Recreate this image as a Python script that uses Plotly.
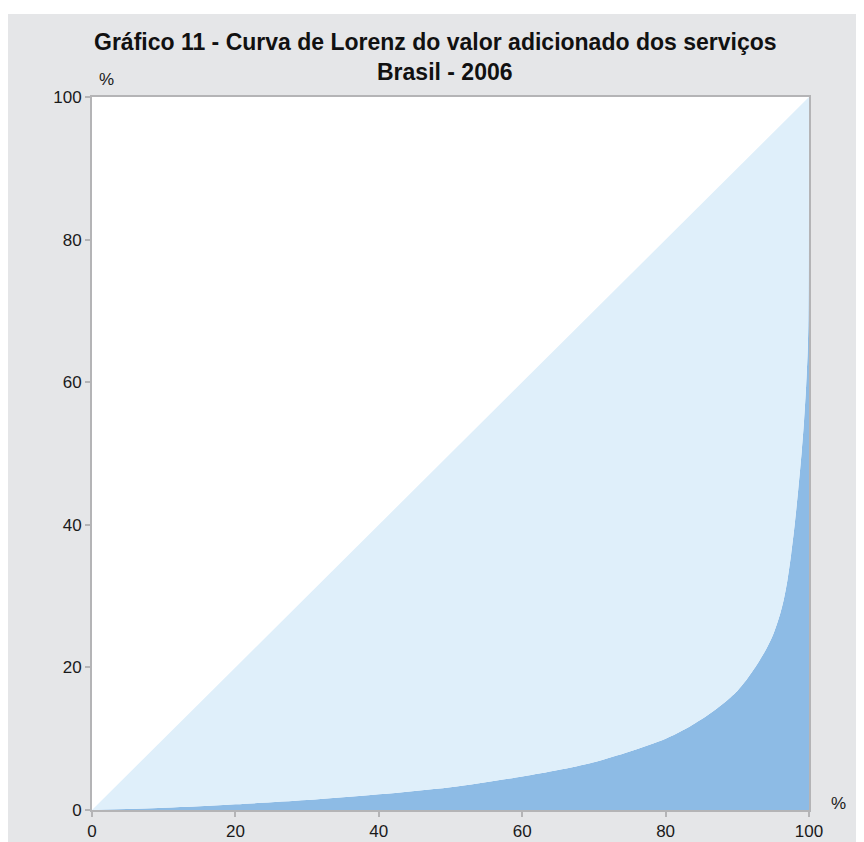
import plotly.graph_objects as go

# Lorenz curve (% of establishments vs % of value added)
pct_units = [0, 10, 20, 30, 40, 50, 60, 65, 70, 75, 80, 83, 86, 88, 90, 91, 92, 93, 94, 95,
             96, 96.5, 97, 97.5, 98, 98.5, 99, 99.3, 99.6, 99.8, 99.9, 100]
pct_value = [0, 0.3, 0.8, 1.4, 2.2, 3.2, 4.7, 5.6, 6.7, 8.2, 10.0, 11.5, 13.4, 14.9, 16.7, 17.9, 19.3, 20.8, 22.5, 24.6,
             27.6, 29.6, 32.3, 35.8, 40.0, 45.0, 50.5, 54.5, 59.5, 64.0, 68.0, 100]
equality_x = [0, 100]
equality_y = [0, 100]

tick_vals = [0, 20, 40, 60, 80, 100]

title_line1 = 'Gráfico 11 - Curva de Lorenz do valor adicionado dos serviços'
title_line2 = 'Brasil - 2006'

bg_gray = '#e5e6e8'
axis_gray = '#b4b4b6'
font_fam = 'Liberation Sans, Arial, sans-serif'

# plot area in figure pixels
PL, PR, PT, PB = 84, 801, 89, 802


def px_x(X):
    # screen px (page has 8px body margin) -> paper x
    return (X - 8 - PL) / (PR - PL)


def px_y(Y):
    return (PB - (Y - 8)) / (PB - PT)


fig = go.Figure()
fig.add_trace(go.Scatter(x=pct_units, y=pct_value, mode='lines',
                         line=dict(width=0, shape='spline', smoothing=0.8),
                         fill='tozeroy', fillcolor='#8dbbe5', hoverinfo='skip', showlegend=False))
fig.add_trace(go.Scatter(x=equality_x, y=equality_y, mode='lines', line=dict(width=0),
                         fill='tonexty', fillcolor='#dfeffa', hoverinfo='skip', showlegend=False))

# white strip at the top of the picture
fig.add_shape(type='rect', xref='paper', yref='paper', x0=-0.3, x1=1.3, y0=px_y(14), y1=1.3,
              fillcolor='white', line_width=0, layer='below')

fig.add_annotation(text='<b>' + title_line1 + '</b>', xref='paper', yref='paper', x=px_x(435), y=px_y(42),
                   showarrow=False, xanchor='center', yanchor='middle',
                   font=dict(family=font_fam, size=23, color='#111111'))
fig.add_annotation(text='<b>' + title_line2 + '</b>', xref='paper', yref='paper', x=px_x(445), y=px_y(72),
                   showarrow=False, xanchor='center', yanchor='middle',
                   font=dict(family=font_fam, size=23, color='#111111'))

fig.add_annotation(text='%', xref='paper', yref='paper', x=px_x(97), y=px_y(80),
                   showarrow=False, xanchor='left', yanchor='middle',
                   font=dict(family=font_fam, size=17, color='#1a1a1a'))
fig.add_annotation(text='%', xref='paper', yref='paper', x=px_x(829), y=px_y(803),
                   showarrow=False, xanchor='left', yanchor='middle',
                   font=dict(family=font_fam, size=17, color='#1a1a1a'))

fig.update_layout(
    width=864, height=842,
    margin=dict(l=PL, r=864 - PR, t=PT, b=842 - PB, autoexpand=False),
    paper_bgcolor=bg_gray,
    plot_bgcolor='white',
    font=dict(family=font_fam, size=17, color='#1a1a1a'),
)
fig.update_xaxes(range=[0, 100], tickvals=tick_vals, showgrid=False, zeroline=False,
                 showline=True, linecolor=axis_gray, linewidth=2, mirror=True,
                 ticks='outside', ticklen=5, tickcolor=axis_gray, tickwidth=2)
fig.update_yaxes(range=[0, 100], tickvals=tick_vals, showgrid=False, zeroline=False,
                 showline=True, linecolor=axis_gray, linewidth=2, mirror=True,
                 ticks='outside', ticklen=5, tickcolor=axis_gray, tickwidth=2)

fig.write_html("out.html")
